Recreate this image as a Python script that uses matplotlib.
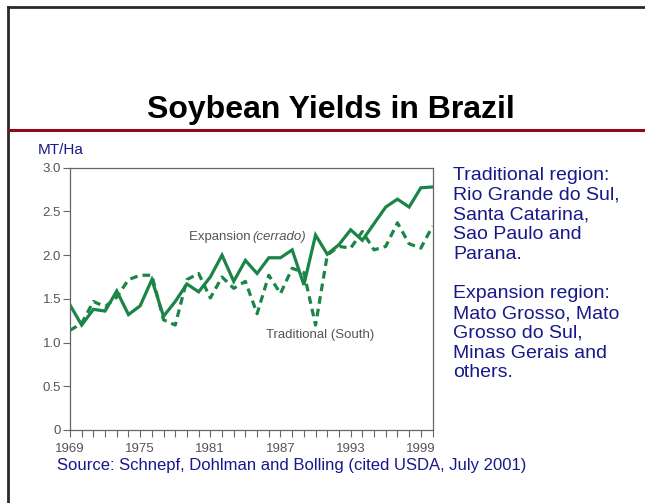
import matplotlib
matplotlib.use('Agg')
import matplotlib.pyplot as plt
from matplotlib.lines import Line2D
from matplotlib.ticker import FixedLocator, MultipleLocator

plt.rcParams['font.family'] = ['Liberation Sans', 'DejaVu Sans']

years = list(range(1969, 2001))
expansion = [1.43, 1.20, 1.38, 1.36, 1.59, 1.32, 1.42, 1.72, 1.30, 1.47,
             1.67, 1.58, 1.75, 2.00, 1.70, 1.94, 1.79, 1.97, 1.97, 2.06,
             1.66, 2.23, 2.01, 2.12, 2.29, 2.17, 2.36, 2.55, 2.64, 2.55,
             2.77, 2.78]
traditional = [1.14, 1.22, 1.47, 1.41, 1.52, 1.72, 1.77, 1.77, 1.26, 1.20,
               1.72, 1.79, 1.51, 1.75, 1.62, 1.70, 1.33, 1.77, 1.56, 1.85,
               1.80, 1.20, 2.00, 2.10, 2.08, 2.27, 2.06, 2.10, 2.37, 2.13,
               2.08, 2.33]
year_ticks = [1969, 1975, 1981, 1987, 1993, 1999]
y_ticks = [0, 0.5, 1.0, 1.5, 2.0, 2.5, 3.0]
y_labels = ['0', '0.5', '1.0', '1.5', '2.0', '2.5', '3.0']

title = 'Soybean Yields in Brazil'
side_text = ('Traditional region:\nRio Grande do Sul,\nSanta Catarina,\n'
             'Sao Paulo and\nParana.\n\nExpansion region:\nMato Grosso, Mato\n'
             'Grosso do Sul,\nMinas Gerais and\nothers.')
source = 'Source: Schnepf, Dohlman and Bolling (cited USDA, July 2001)'

W, H = 645, 503
GREEN = '#1b8447'
BLUE = '#18188a'
GRAY = '#555555'


def fx(px):
    return px / W


def fy(py):
    return 1 - py / H


fig = plt.figure(figsize=(W / 100, H / 100), dpi=100)

# slide frame and red rule
fig.add_artist(Line2D([fx(7.5), 1], [fy(6.5), fy(6.5)], color='#2a2a2a',
                      lw=2, transform=fig.transFigure))
fig.add_artist(Line2D([fx(7.5), fx(7.5)], [fy(6.5), 0], color='#2a2a2a',
                      lw=2, transform=fig.transFigure))
fig.add_artist(Line2D([fx(8.5), 1], [fy(130.5), fy(130.5)], color='#8c0a1c',
                      lw=2.2, transform=fig.transFigure))

fig.text(fx(331), fy(118), title, ha='center', va='baseline',
         fontsize=23, fontweight='bold', color='black')
fig.text(fx(38), fy(150), 'MT/Ha', ha='left', va='center',
         fontsize=11, color=BLUE)
fig.text(fx(453), fy(167), side_text, ha='left', va='top',
         fontsize=14, color=BLUE, linespacing=1.21)
fig.text(fx(57), fy(470), source, ha='left', va='baseline',
         fontsize=12, color=BLUE)

ax = fig.add_axes([fx(70), fy(430), fx(432.5) - fx(70), fy(167.7) - fy(430)])
ax.plot(years, expansion, color=GREEN, lw=2.3, solid_joinstyle='miter')
ax.plot(years, traditional, color=GREEN, lw=2.3, dashes=(2.4, 1.6))

ax.set_xlim(1969, 2000)
ax.set_ylim(0, 3.0)
ax.xaxis.set_major_locator(FixedLocator(year_ticks))
ax.xaxis.set_minor_locator(MultipleLocator(1))
ax.set_yticks(y_ticks)
ax.set_yticklabels(y_labels)
ax.tick_params(which='both', direction='out', length=5, width=0.8,
               color='#666666', labelcolor=GRAY, labelsize=9.5, pad=1.5)
ax.tick_params(axis='x', pad=4)
for s in ax.spines.values():
    s.set_color('#666666')
    s.set_linewidth(0.9)

ax.text(1979.2, 2.21, 'Expansion ', ha='left', va='center',
        fontsize=9.5, color=GRAY)
ax.text(1989.2, 2.21, '(cerrado)', ha='right', va='center',
        fontsize=9.5, color=GRAY, style='italic')
ax.text(1990.4, 1.09, 'Traditional (South)', ha='center', va='center',
        fontsize=9.5, color=GRAY)

fig.savefig('out.png', dpi=100)
